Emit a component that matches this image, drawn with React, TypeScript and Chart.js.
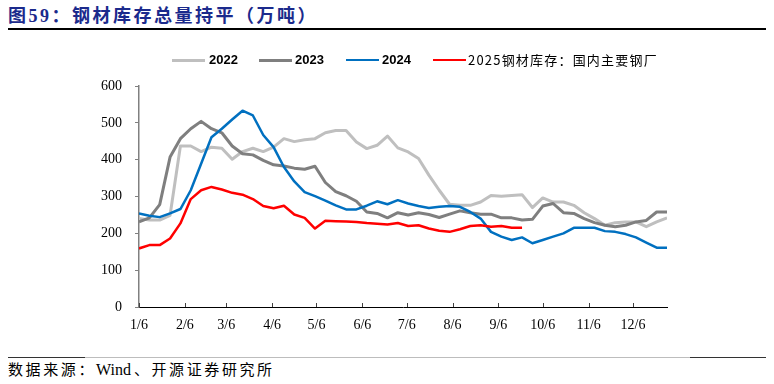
import React, { useEffect, useRef } from "react";
import { Chart, registerables } from "chart.js";

Chart.register(...registerables);

// Weekly observation days (day of year) shared by every series
const weekDays = [
  6, 13, 20, 27, 34, 41, 48, 55, 62, 69,
  76, 83, 90, 97, 104, 111, 118, 125, 132, 139,
  146, 153, 160, 167, 174, 181, 188, 195, 202, 209,
  216, 223, 230, 237, 244, 251, 258, 265, 272, 279,
  286, 293, 300, 307, 314, 321, 328, 335, 342, 349,
  356, 363,
];

// X-axis tick positions (day of year) and their labels
const monthTickDays = [6, 37, 65, 96, 126, 157, 187, 218, 249, 279, 310, 340];
const monthTickLabels = ["1/6", "2/6", "3/6", "4/6", "5/6", "6/6", "7/6", "8/6", "9/6", "10/6", "11/6", "12/6"];

const yTicks = [0, 100, 200, 300, 400, 500, 600];

const series2022 = [
  240, 236, 236, 249, 437, 437, 422, 434, 431, 401,
  422, 431, 422, 434, 457, 449, 454, 457, 473, 479,
  479, 448, 430, 439, 464, 432, 421, 403, 358, 317,
  279, 276, 276, 285, 303, 301, 303, 305, 270, 296,
  285, 285, 276, 256, 240, 222, 229, 231, 231, 218,
  231, 242,
];

const series2023 = [
  231, 242, 278, 407, 457, 484, 504, 484, 473, 437,
  416, 413, 398, 386, 383, 377, 374, 382, 338, 313,
  302, 287, 258, 254, 242, 256, 250, 256, 251, 243,
  252, 261, 256, 252, 252, 242, 242, 236, 238, 274,
  281, 256, 254, 240, 229, 222, 218, 222, 231, 235,
  258, 258,
];

const series2024 = [
  254, 248, 244, 254, 266, 317, 389, 461, 484, 509,
  533, 520, 467, 434, 380, 341, 312, 301, 289, 276,
  265, 265, 275, 287, 279, 290, 281, 274, 269, 272,
  274, 272, 258, 240, 204, 191, 182, 189, 173, 182,
  191, 200, 215, 215, 215, 206, 204, 198, 189, 175,
  161, 161,
];

const series2025 = [
  159, 168, 168, 186, 227, 293, 317, 326, 319, 310,
  305, 293, 274, 268, 275, 251, 242, 213, 234, 233,
  232, 231, 228, 226, 224, 228, 220, 222, 213, 207,
  204, 211, 220, 222, 218, 220, 215, 215,
];

const seriesNames = ["2022", "2023", "2024", "2025钢材库存：国内主要钢厂"];
const seriesColors = ["#BFBFBF", "#7F7F7F", "#0070C0", "#FF0000"];
const seriesWidths = [3, 3, 2.5, 2.5];

const toPoints = (vals: number[]) => vals.map((v, i) => ({ x: weekDays[i], y: v }));

const innerTicks = {
  id: "innerTicks",
  afterDraw(chart: any) {
    const { ctx, chartArea, scales } = chart;
    const xs = scales.x;
    ctx.save();
    ctx.strokeStyle = "#404040";
    ctx.lineWidth = 1;
    monthTickDays.forEach((d) => {
      const px = Math.round(xs.getPixelForValue(d)) + 0.5;
      ctx.beginPath();
      ctx.moveTo(px, chartArea.bottom);
      ctx.lineTo(px, chartArea.bottom - 4);
      ctx.stroke();
    });
    ctx.restore();
  },
};

function LineChart() {
  const ref = useRef<HTMLCanvasElement | null>(null);
  useEffect(() => {
    if (!ref.current) return;
    const all = [series2022, series2023, series2024, series2025];
    const chart = new Chart(ref.current, {
      type: "line",
      data: {
        datasets: all.map((vals, k) => ({
          label: seriesNames[k],
          data: toPoints(vals),
          borderColor: seriesColors[k],
          backgroundColor: seriesColors[k],
          borderWidth: seriesWidths[k],
          pointRadius: 0,
          tension: 0,
          fill: false,
          order: 4 - k,
        })),
      },
      options: {
        responsive: false,
        maintainAspectRatio: false,
        animation: false,
        devicePixelRatio: 1,
        layout: { padding: { left: 0, right: 107, top: 86, bottom: 0 } },
        plugins: { legend: { display: false }, tooltip: { enabled: false } },
        elements: { line: { borderJoinStyle: "round", borderCapStyle: "butt" } },
        scales: {
          x: {
            type: "linear",
            min: 6,
            max: 363,
            afterBuildTicks: (s: any) => {
              s.ticks = monthTickDays.map((v) => ({ value: v }));
            },
            afterFit: (s: any) => {
              s.height = 33;
            },
            grid: { drawOnChartArea: false, drawTicks: false },
            border: { color: "#000000", width: 1 },
            ticks: {
              autoSkip: false,
              maxRotation: 0,
              minRotation: 0,
              padding: 10,
              color: "#000000",
              font: { family: '"Liberation Serif", "Times New Roman", serif', size: 14 },
              callback: (_v: any, i: number) => monthTickLabels[i],
            },
          },
          y: {
            min: 0,
            max: 600,
            afterBuildTicks: (s: any) => {
              s.ticks = yTicks.map((v) => ({ value: v }));
            },
            afterFit: (s: any) => {
              s.width = 139;
            },
            grid: { drawOnChartArea: false, drawTicks: true, tickLength: 4, color: "#808080" },
            border: { color: "#808080", width: 1.5 },
            ticks: {
              padding: 13,
              color: "#000000",
              font: { family: '"Liberation Serif", "Times New Roman", serif', size: 14 },
              callback: (v: any) => String(v),
            },
          },
        },
      },
      plugins: [innerTicks],
    });
    return () => chart.destroy();
  }, []);
  return (
    <canvas
      ref={ref}
      width={774}
      height={340}
      style={{ position: "absolute", left: 0, top: 0, width: 774, height: 340 }}
    />
  );
}

const legendPos = [
  { line: 172, text: 209 },
  { line: 259, text: 295 },
  { line: 346, text: 382 },
  { line: 433, text: 468 },
];

export default function App() {
  const serifCjk = '"Liberation Serif", "Noto Sans CJK SC", serif';
  return (
    <div
      style={{
        position: "absolute",
        left: 0,
        top: 0,
        width: 774,
        height: 384,
        background: "#ffffff",
        overflow: "hidden",
      }}
    >
      <div
        style={{
          position: "absolute",
          left: 8,
          top: 5,
          fontFamily: serifCjk,
          fontWeight: "bold",
          fontSize: 18,
          lineHeight: "22px",
          letterSpacing: "2.5px",
          color: "#1B2A8C",
          whiteSpace: "nowrap",
        }}
      >
        图59：钢材库存总量持平（万吨）
      </div>
      <div style={{ position: "absolute", left: 8, top: 28, width: 758, height: 1.5, background: "#000" }} />

      <LineChart />

      {seriesNames.map((name, k) => (
        <React.Fragment key={name}>
          <div
            style={{
              position: "absolute",
              left: legendPos[k].line,
              top: 60 - seriesWidths[k] / 2,
              width: 33,
              height: seriesWidths[k],
              background: seriesColors[k],
            }}
          />
          <div
            style={{
              position: "absolute",
              left: legendPos[k].text,
              top: 51,
              lineHeight: "18px",
              fontSize: 13,
              fontFamily: k < 3 ? '"Liberation Sans", Arial, sans-serif' : '"Noto Sans CJK SC", sans-serif',
              fontWeight: k < 3 ? "bold" : "normal",
              letterSpacing: k < 3 ? "0px" : "1.2px",
              color: "#000",
              whiteSpace: "nowrap",
            }}
          >
            {name}
          </div>
        </React.Fragment>
      ))}

      <div style={{ position: "absolute", left: 8, top: 357, width: 758, height: 1, background: "#BDBDBD" }} />
      <div style={{ position: "absolute", left: 8, top: 356.5, width: 77, height: 1.5, background: "#333" }} />
      <div style={{ position: "absolute", left: 690, top: 356.5, width: 76, height: 1.5, background: "#333" }} />
      <div
        style={{
          position: "absolute",
          left: 8,
          top: 361,
          fontFamily: serifCjk,
          fontSize: 15,
          lineHeight: "18px",
          letterSpacing: "2.6px",
          color: "#000",
          whiteSpace: "nowrap",
        }}
      >
        数据来源：
        <span style={{ letterSpacing: "0px", fontSize: 16, marginRight: 3 }}>Wind</span>
        、开源证券研究所
      </div>
    </div>
  );
}
